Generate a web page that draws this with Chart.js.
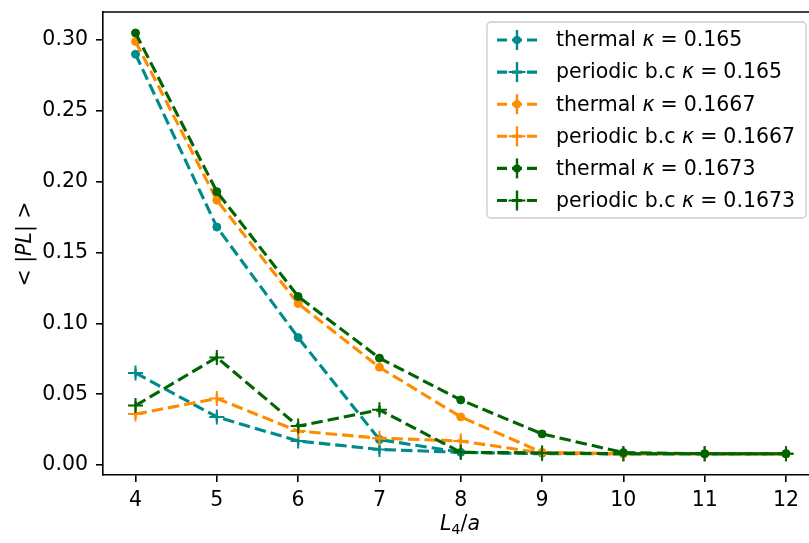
<!DOCTYPE html>
<html>
<head>
<meta charset="utf-8">
<script src="https://cdn.jsdelivr.net/npm/chart.js@4.4.1/dist/chart.umd.min.js"></script>
<style>
  html, body { margin: 0; padding: 0; background: #fff; }
  #wrap { width: 809px; height: 543px; }
</style>
</head>
<body>
<div id="wrap"><canvas id="chart1" width="809" height="543"></canvas></div>
<script>
// L4/a values
const sizes = [4, 5, 6, 7, 8, 9, 10, 11, 12];
const xTicks = [4, 5, 6, 7, 8, 9, 10, 11, 12];
const yTicks = [0, 0.05, 0.10, 0.15, 0.20, 0.25, 0.30];

// <|PL|>
const thermal165  = [0.290, 0.168, 0.090, 0.018, 0.009, 0.0085, 0.008, 0.008, 0.008];
const periodic165 = [0.065, 0.034, 0.017, 0.011, 0.009, 0.008, 0.008, 0.008, 0.008];
const thermal1667  = [0.299, 0.187, 0.114, 0.069, 0.034, 0.009, 0.008, 0.008, 0.008];
const periodic1667 = [0.036, 0.047, 0.024, 0.019, 0.017, 0.0085, 0.008, 0.008, 0.008];
const thermal1673  = [0.305, 0.193, 0.119, 0.0755, 0.046, 0.022, 0.0088, 0.008, 0.008];
const periodic1673 = [0.042, 0.076, 0.0275, 0.039, 0.009, 0.0085, 0.008, 0.008, 0.008];

// error bars (small)
const errThermal  = [0.002, 0.002, 0.002, 0.002, 0.002, 0.002, 0.002, 0.002, 0.002];
const errPeriodic = [0.003, 0.003, 0.003, 0.003, 0.003, 0.003, 0.003, 0.003, 0.003];

const seriesNames = ['thermal', 'periodic b.c', 'thermal', 'periodic b.c', 'thermal', 'periodic b.c'];
const kappas = ['0.165', '0.165', '0.1667', '0.1667', '0.1673', '0.1673'];

const TEAL = '#008b8b', ORANGE = '#ff8c00', GREEN = '#006400';
const FONT = 'DejaVu Sans';
const FS = 20.5;

function makeSet(name, kappa, values, errs, color, marker, order) {
  return {
    label: name + ' κ = ' + kappa,
    name: name,
    kappa: kappa,
    data: sizes.map((s, i) => ({ x: s, y: values[i] })),
    errs: errs,
    borderColor: color,
    backgroundColor: color,
    borderWidth: 3.1,
    borderDash: [11.5, 5],
    pointStyle: marker,
    pointRadius: marker === 'cross' ? 7.5 : 4,
    pointBorderWidth: marker === 'cross' ? 2 : 1,
    pointBorderColor: color,
    pointBackgroundColor: color,
    fill: false,
    tension: 0,
    order: order
  };
}

const datasets = [
  makeSet(seriesNames[0], kappas[0], thermal165, errThermal, TEAL, 'circle', 5),
  makeSet(seriesNames[1], kappas[1], periodic165, errPeriodic, TEAL, 'cross', 4),
  makeSet(seriesNames[2], kappas[2], thermal1667, errThermal, ORANGE, 'circle', 3),
  makeSet(seriesNames[3], kappas[3], periodic1667, errPeriodic, ORANGE, 'cross', 2),
  makeSet(seriesNames[4], kappas[4], thermal1673, errThermal, GREEN, 'circle', 1),
  makeSet(seriesNames[5], kappas[5], periodic1673, errPeriodic, GREEN, 'cross', 0)
];

// error bars, frame top line, axis titles and legend
const extras = {
  id: 'extras',
  beforeDatasetsDraw(chart) {
    const ctx = chart.ctx, xs = chart.scales.x, ys = chart.scales.y;
    ctx.save();
    chart.data.datasets.forEach(ds => {
      ctx.strokeStyle = ds.borderColor;
      ctx.lineWidth = 2.4;
      ds.data.forEach((p, i) => {
        const px = xs.getPixelForValue(p.x);
        ctx.beginPath();
        ctx.moveTo(px, ys.getPixelForValue(p.y - ds.errs[i]));
        ctx.lineTo(px, ys.getPixelForValue(p.y + ds.errs[i]));
        ctx.stroke();
      });
    });
    ctx.restore();
  },
  afterDraw(chart) {
    const ctx = chart.ctx, a = chart.chartArea;
    ctx.save();
    // top spine
    ctx.strokeStyle = '#000';
    ctx.lineWidth = 1.6;
    ctx.beginPath();
    ctx.moveTo(a.left, a.top);
    ctx.lineTo(chart.width, a.top);
    ctx.stroke();

    ctx.fillStyle = '#000';
    ctx.textBaseline = 'alphabetic';
    const fN = FS + 'px "' + FONT + '"', fI = 'italic ' + FS + 'px "' + FONT + '"', fS = '14.5px "' + FONT + '"';
    // x title: L_4/a
    const xParts = [['L', fI, 0], ['4', fS, 4], ['/', fN, 0], ['a', fI, 0]];
    let w = 0;
    xParts.forEach(p => { ctx.font = p[1]; w += ctx.measureText(p[0]).width; });
    let cx = 460 - w / 2;
    xParts.forEach(p => { ctx.font = p[1]; ctx.fillText(p[0], cx, 530 + p[2]); cx += ctx.measureText(p[0]).width; });

    // y title: < |PL| >
    ctx.save();
    ctx.translate(31, 244);
    ctx.rotate(-Math.PI / 2);
    const yParts = [['< |', fN], ['PL', fI], ['| >', fN]];
    w = 0;
    yParts.forEach(p => { ctx.font = p[1]; w += ctx.measureText(p[0]).width; });
    cx = -w / 2;
    yParts.forEach(p => { ctx.font = p[1]; ctx.fillText(p[0], cx, 0); cx += ctx.measureText(p[0]).width; });
    ctx.restore();

    // legend box
    const bx = 487, by = 22, bw = 319, bh = 196, r = 4;
    ctx.fillStyle = 'rgba(255,255,255,0.8)';
    ctx.strokeStyle = '#cccccc';
    ctx.lineWidth = 1.3;
    ctx.beginPath();
    ctx.roundRect(bx, by, bw, bh, r);
    ctx.fill();
    ctx.stroke();

    chart.data.datasets.forEach((ds, i) => {
      const ry = 40 + i * 32.1;
      ctx.strokeStyle = ds.borderColor;
      ctx.fillStyle = ds.borderColor;
      // dashed handle
      ctx.lineWidth = 3.1;
      ctx.setLineDash([10, 5]);
      ctx.beginPath();
      ctx.moveTo(497, ry);
      ctx.lineTo(539, ry);
      ctx.stroke();
      ctx.setLineDash([]);
      // error bar
      ctx.lineWidth = 2.4;
      ctx.beginPath();
      ctx.moveTo(517, ry - 10);
      ctx.lineTo(517, ry + 10);
      ctx.stroke();
      // marker
      if (ds.pointStyle === 'cross') {
        ctx.lineWidth = 2;
        ctx.beginPath();
        ctx.moveTo(508.5, ry); ctx.lineTo(525.5, ry);
        ctx.moveTo(517, ry - 8.5); ctx.lineTo(517, ry + 8.5);
        ctx.stroke();
      } else {
        ctx.beginPath();
        ctx.arc(517, ry, 4, 0, Math.PI * 2);
        ctx.fill();
      }
      // text, with mathtext-like spacing around "="
      ctx.fillStyle = '#000';
      ctx.textBaseline = 'middle';
      let tx = 556;
      [[ds.name + ' ', fN, 0], ['κ', fI, 6], ['=', fN, 6], [ds.kappa, fN, 0]].forEach(p => {
        ctx.font = p[1];
        ctx.fillText(p[0], tx, ry + 1);
        tx += ctx.measureText(p[0]).width + p[2];
      });
    });
    ctx.restore();
  }
};

new Chart(document.getElementById('chart1'), {
  type: 'line',
  data: { datasets: datasets },
  options: {
    responsive: false,
    animation: false,
    devicePixelRatio: 1,
    layout: { autoPadding: false, padding: { top: 12, right: 0, left: 0, bottom: 0 } },
    plugins: { legend: { display: false }, tooltip: { enabled: false } },
    scales: {
      x: {
        type: 'linear',
        min: 3.6,
        max: 12.283,
        afterBuildTicks: s => { s.ticks = xTicks.map(v => ({ value: v })); },
        afterFit: s => { s.height = 68; s.paddingLeft = 0; s.paddingRight = 0; },
        ticks: { color: '#000', font: { family: FONT, size: FS }, padding: 6, maxRotation: 0, callback: v => String(v) },
        grid: { display: true, drawOnChartArea: false, drawTicks: true, tickLength: 7, color: '#000', lineWidth: 1.6 },
        border: { display: true, color: '#000', width: 1.6 }
      },
      y: {
        type: 'linear',
        min: -0.007,
        max: 0.3198,
        afterBuildTicks: s => { s.ticks = yTicks.map(v => ({ value: v })); },
        afterFit: s => { s.width = 103; s.paddingTop = 0; s.paddingBottom = 0; },
        ticks: { color: '#000', font: { family: FONT, size: FS }, padding: 8, callback: v => v.toFixed(2) },
        grid: { display: true, drawOnChartArea: false, drawTicks: true, tickLength: 7, color: '#000', lineWidth: 1.6 },
        border: { display: true, color: '#000', width: 1.6 }
      }
    }
  },
  plugins: [extras]
});
</script>
</body>
</html>
